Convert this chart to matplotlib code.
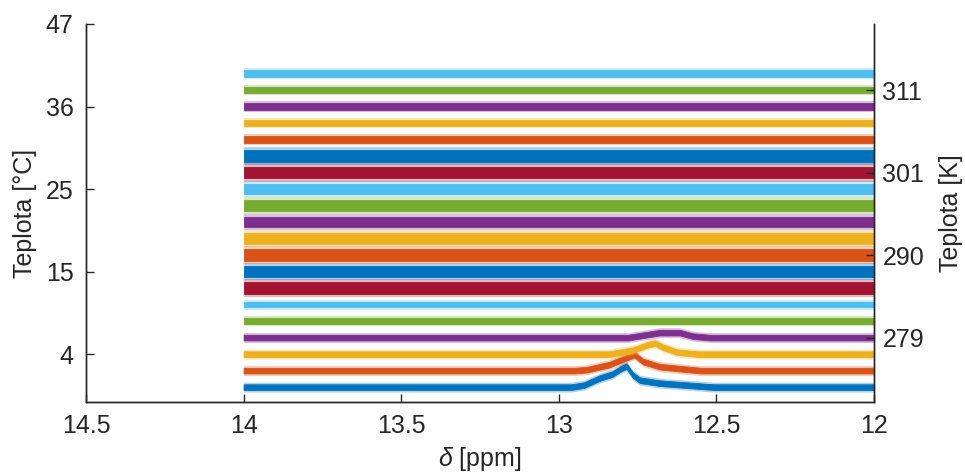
import matplotlib
matplotlib.use("Agg")
import matplotlib.pyplot as plt

plt.rcParams['font.family'] = ['Liberation Sans', 'DejaVu Sans']
plt.rcParams['mathtext.fontset'] = 'custom'
plt.rcParams['mathtext.it'] = 'Liberation Sans:italic'
plt.rcParams['mathtext.rm'] = 'Liberation Sans'

# MATLAB default line colours, cycled bottom -> top
colors = ['#0072BD', '#D95319', '#EDB120', '#7E2F8E', '#77AC30', '#4DBEEE', '#A2142F']

# shift range of every spectrum [ppm]
shift_range = [14.0, 12.0]

# noise half-width of each stacked spectrum (trace units), bottom -> top
noise = [0.17, 0.17, 0.17, 0.17, 0.17, 0.17, 0.36, 0.34, 0.34, 0.34,
         0.31, 0.34, 0.31, 0.36, 0.34, 0.2, 0.2, 0.22, 0.17, 0.2]
# extent of the largest noise spikes (trace units)
spikes = [0.3, 0.3, 0.3, 0.3, 0.3, 0.3, 0.55, 0.52, 0.52, 0.52,
          0.5, 0.52, 0.5, 0.55, 0.52, 0.33, 0.33, 0.36, 0.3, 0.33]

# imino signal of the four lowest spectra: (shift [ppm], height [trace units])
peak_shift = {
    0: [14.0, 12.96, 12.92, 12.87, 12.83, 12.80, 12.785, 12.765, 12.743, 12.68, 12.594, 12.51, 12.0],
    1: [14.0, 12.95, 12.91, 12.84, 12.80, 12.76, 12.733, 12.68, 12.616, 12.55, 12.0],
    2: [14.0, 12.84, 12.765, 12.72, 12.695, 12.67, 12.625, 12.56, 12.0],
    3: [14.0, 12.78, 12.72, 12.68, 12.616, 12.575, 12.52, 12.0],
}
peak_height = {
    0: [0.0, 0.0, 0.12, 0.55, 0.79, 1.15, 1.27, 0.73, 0.42, 0.24, 0.12, 0.0, 0.0],
    1: [0.0, 0.0, 0.06, 0.36, 0.67, 0.97, 0.55, 0.24, 0.12, 0.0, 0.0],
    2: [0.0, 0.0, 0.24, 0.55, 0.67, 0.42, 0.12, 0.0, 0.0],
    3: [0.0, 0.0, 0.18, 0.30, 0.30, 0.09, 0.0, 0.0],
}

# axis ticks (positions in trace units) and their temperature labels
left_ticks = [2, 7, 12, 17, 22]
left_labels = ['4', '15', '25', '36', '47']
right_ticks = [3, 8, 13, 18]
right_labels = ['279', '290', '301', '311']
x_ticks = [14.5, 14, 13.5, 13, 12.5, 12]
x_labels = ['14.5', '14', '13.5', '13', '12.5', '12']

ink = '#262626'
fs = 18

fig = plt.figure(figsize=(9.65, 4.76), dpi=100)
ax = fig.add_axes([0.0891, 0.1555, 0.8166, 0.7941])

for i, hw in enumerate(noise):
    c = colors[i % len(colors)]
    xs = peak_shift.get(i, shift_range)
    hs = peak_height.get(i, [0.0, 0.0])
    ax.fill_between(xs, [i + h - spikes[i] for h in hs], [i + h + spikes[i] for h in hs],
                    color=c, alpha=0.3, lw=0)
    ax.fill_between(xs, [i + h - hw for h in hs], [i + h + hw for h in hs],
                    color=c, lw=0.6, edgecolor=c)

ax.set_xlim(14.5, 12)
ax.set_ylim(-0.9, 22)
ax.set_xticks(x_ticks)
ax.set_xticklabels(x_labels)
ax.set_yticks(left_ticks)
ax.set_yticklabels(left_labels)
ax.set_xlabel(r'$\delta$ [ppm]', fontsize=fs, color=ink, labelpad=5)
ax.set_ylabel('Teplota [°C]', fontsize=fs, color=ink, labelpad=6)

ax2 = ax.twinx()
ax2.set_ylim(ax.get_ylim())
ax2.set_yticks(right_ticks)
ax2.set_yticklabels(right_labels)
ax2.set_ylabel('Teplota [K]', fontsize=fs, color=ink, labelpad=11)

for a in (ax, ax2):
    a.spines['top'].set_visible(False)
    for s in a.spines.values():
        s.set_color(ink)
        s.set_linewidth(1.0)
    a.tick_params(direction='in', length=6, width=1.0, colors=ink,
                  labelsize=fs, pad=9)
ax.tick_params(axis='y', pad=9)
ax2.tick_params(axis='y', pad=6)

fig.savefig('out.png', dpi=100)
